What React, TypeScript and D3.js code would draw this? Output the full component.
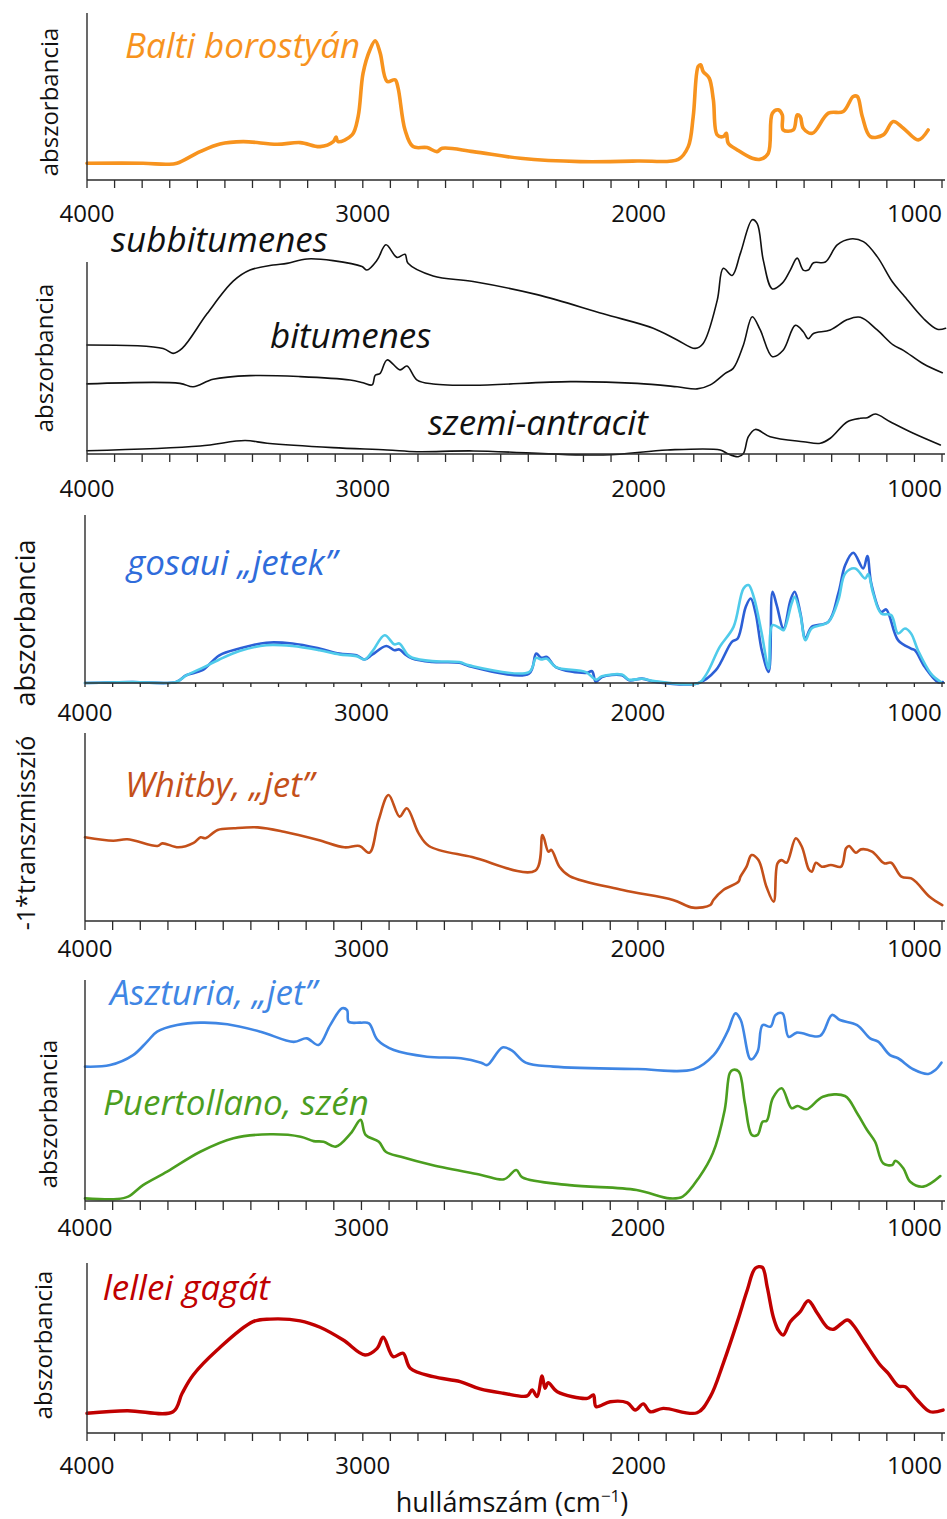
import React from 'react';
import * as d3 from 'd3';

type Pt = [number, number]; // [wavenumber cm-1, relative intensity]

// x axis
const majorTicks = [4000, 3000, 2000, 1000];
const minorTicks = d3.range(4000, 899, -100);

// Panel 1 – Baltic amber
const baltiBorostyan: Pt[] = [
  [4000, 10], [3797, 10], [3710, 9.4], [3674, 10], [3590, 17], [3518, 21.6], [3434, 23], [3311, 21.4],
  [3227, 22.4], [3155, 20], [3107, 23], [3097, 25.7], [3090, 23], [3039, 27], [3017, 38], [2999, 64],
  [2974, 78], [2955, 83.4], [2937, 76], [2912, 59], [2883, 60], [2872, 55], [2847, 30], [2818, 20],
  [2767, 19.4], [2731, 17], [2712, 19], [2600, 17], [2429, 13], [2212, 11], [2005, 11.4], [1856, 12.4],
  [1820, 20], [1802, 38], [1784, 68], [1775, 69], [1766, 65], [1744, 61], [1729, 48], [1715, 27],
  [1693, 26], [1682, 28], [1675, 22], [1642, 18], [1588, 13], [1559, 12.4], [1530, 16], [1515, 40],
  [1494, 42], [1479, 39], [1476, 30], [1439, 30], [1425, 39], [1414, 38], [1403, 31], [1370, 28],
  [1312, 40], [1258, 41], [1222, 50], [1207, 50], [1189, 38], [1160, 26], [1113, 27], [1077, 35],
  [1040, 31], [986, 24], [950, 30],
];

// Panel 2 – coals
const subbitumenes: Pt[] = [
  [4000, 56.8], [3724, 55], [3688, 52.4], [3655, 55], [3565, 73], [3470, 90], [3409, 95.8], [3325, 98.4],
  [3275, 99.3], [3202, 101.6], [3108, 100.7], [3003, 97.6], [2985, 95.8], [2948, 101], [2916, 109],
  [2876, 102.4], [2847, 104], [2836, 99.3], [2745, 92.7], [2600, 89.8], [2368, 83], [2128, 73],
  [1947, 65.5], [1860, 59.4], [1795, 55], [1766, 57.6], [1715, 80], [1693, 96.7], [1661, 93],
  [1631, 104.5], [1588, 122], [1570, 120], [1548, 101], [1515, 86], [1479, 89], [1450, 95.8],
  [1425, 102], [1403, 95.8], [1385, 95.8], [1366, 99.6], [1323, 100], [1280, 108.9], [1232, 112],
  [1185, 110.6], [1135, 102.8], [1080, 89.7], [1040, 82.8], [968, 70.7], [917, 65], [887, 65.5],
];
const bitumenes: Pt[] = [
  [4000, 36.5], [3663, 36.8], [3615, 35], [3543, 38.9], [3409, 40.8], [3227, 40.3], [3046, 38.5],
  [2999, 37.1], [2966, 36], [2955, 41], [2937, 42], [2912, 49], [2865, 43.8], [2840, 45.8], [2803, 38.5],
  [2745, 36.5], [2600, 35.8], [2248, 37.7], [2005, 36.8], [1860, 35], [1788, 33.9], [1740, 36],
  [1686, 42], [1657, 44.6], [1620, 56.8], [1588, 71.5], [1559, 64.6], [1515, 50.7], [1476, 54],
  [1432, 67], [1403, 63.7], [1385, 60], [1366, 62.8], [1305, 64.6], [1243, 70], [1196, 71.2],
  [1135, 64.6], [1077, 56.8], [1040, 54], [968, 47], [899, 42.3],
];
const szemiAntracit: Pt[] = [
  [4000, 1.7], [3590, 4.2], [3427, 7], [3347, 5.6], [3108, 3.3], [2912, 2.1], [2803, 1.2], [2600, 1.6],
  [2128, -0.5], [1896, 2.1], [1704, 2.1], [1679, 0.3], [1639, -1.4], [1620, 0.3], [1602, 9], [1577, 12.8],
  [1523, 9], [1403, 6.4], [1341, 5.6], [1305, 8.2], [1243, 16.8], [1196, 18.6], [1171, 18.9],
  [1142, 20.8], [1088, 16.8], [1004, 10.8], [906, 4.7],
];

// Panel 3 – Gosau "jets" (two samples)
const gosauiSotet: Pt[] = [
  [4000, 0], [3830, 0.6], [3670, 0.6], [3634, 4.6], [3575, 7.6], [3514, 16.5], [3441, 20.5], [3344, 24],
  [3250, 23.5], [3152, 20.5], [3080, 17.5], [3018, 16.5], [2989, 14], [2960, 17], [2910, 22], [2881, 19.5],
  [2863, 20], [2845, 17.5], [2816, 14.5], [2744, 12.5], [2646, 12], [2610, 10], [2394, 5.6], [2368, 17.5],
  [2350, 15], [2329, 15.5], [2297, 9.5], [2188, 6], [2166, 7], [2152, 0.6], [2130, 3.6], [2058, 4.6],
  [2032, 1.6], [1985, 2.6], [1935, 0.6], [1780, 0], [1718, 7.6], [1660, 24.5], [1639, 26.5], [1610, 45.3],
  [1592, 50.3], [1574, 41.4], [1552, 19.5], [1527, 6.6], [1513, 54.3], [1498, 46.3], [1473, 32.4],
  [1448, 49.3], [1433, 54.3], [1412, 41.4], [1394, 26.5], [1372, 33.4], [1311, 36.4], [1275, 53.3],
  [1250, 70.2], [1221, 77.5], [1185, 68.2], [1170, 75.5], [1156, 59.3], [1120, 42.3], [1102, 43.8],
  [1059, 25.5], [1012, 20.5], [998, 19.5], [962, 9.5], [915, 0.6], [897, 0.6],
];
const gosauiVilagos: Pt[] = [
  [4000, 0], [3830, 0.6], [3670, 0.6], [3634, 4.5], [3575, 9], [3514, 14], [3441, 19], [3344, 22.5],
  [3250, 22], [3152, 19.5], [3080, 17], [3018, 16], [2989, 14], [2960, 19], [2916, 28.4], [2881, 23],
  [2863, 23.5], [2834, 17], [2816, 15], [2744, 13], [2646, 12.5], [2610, 10.5], [2394, 6.5], [2368, 15],
  [2350, 14], [2329, 14.5], [2297, 9.5], [2188, 6.5], [2152, 2], [2130, 4], [2058, 5], [2032, 2],
  [1985, 2.5], [1935, 1], [1780, 0], [1751, 5.6], [1704, 21.5], [1654, 33.4], [1618, 56.3], [1600, 58.3],
  [1581, 51.3], [1552, 29.5], [1527, 8.6], [1513, 34.4], [1484, 32.4], [1473, 31.4], [1444, 47.3],
  [1433, 51.3], [1412, 40.4], [1394, 25.5], [1372, 32.4], [1311, 36.4], [1275, 49.3], [1250, 65.2],
  [1214, 68.2], [1178, 62.2], [1167, 64.8], [1149, 53.3], [1120, 41.4], [1084, 40.4], [1059, 29.5],
  [1034, 32.4], [1012, 29.5], [987, 19.5], [940, 5.6], [904, 0.6],
];

// Panel 4 – Whitby jet (-1 * transmission)
const whitbyJet: Pt[] = [
  [4000, 44.5], [3898, 42.7], [3847, 43.5], [3738, 39.9], [3720, 41.3], [3662, 39.2], [3607, 41.6],
  [3582, 44.5], [3564, 44], [3520, 48.4], [3462, 49.3], [3375, 49.8], [3280, 47.5], [3156, 43.1],
  [3062, 39.2], [3007, 39.9], [2971, 36.3], [2938, 53.7], [2902, 67], [2862, 55.5], [2836, 60],
  [2793, 46.6], [2756, 39.9], [2600, 34], [2371, 26.8], [2345, 45.7], [2324, 36.9], [2313, 37.8],
  [2284, 28.9], [2247, 23.9], [2055, 16.5], [1873, 11.2], [1800, 7.1], [1738, 8.5], [1727, 11.2],
  [1691, 16.5], [1636, 20.9], [1629, 23.6], [1607, 28.9], [1589, 35.1], [1564, 32.4], [1535, 18.2],
  [1509, 10.3], [1495, 30.7], [1480, 32.4], [1462, 31], [1429, 44], [1407, 39.5], [1382, 27.5],
  [1371, 26.2], [1356, 31], [1335, 28.9], [1302, 29.8], [1265, 28.9], [1247, 38.7], [1236, 39.9],
  [1211, 36.3], [1193, 38.1], [1153, 36.9], [1109, 30.7], [1084, 31], [1047, 23.6], [1011, 22.7],
  [989, 20], [945, 12.9], [899, 8.5],
];

// Panel 5 – Asturias jet and Puertollano coal
const aszturiaJet: Pt[] = [
  [4000, 60.8], [3909, 61.5], [3826, 66], [3776, 72], [3739, 76.6], [3667, 79.6], [3583, 80.7],
  [3485, 80], [3365, 76.6], [3245, 72], [3198, 73.6], [3155, 70.6], [3113, 79.6], [3070, 87.2],
  [3052, 86.4], [3046, 81.1], [3003, 80.7], [2973, 80.4], [2942, 72.9], [2883, 68.3], [2763, 65.3],
  [2640, 64.6], [2567, 62.6], [2545, 61.5], [2490, 69.5], [2455, 68], [2406, 62.6], [2306, 60.8],
  [2002, 59.7], [1798, 59.6], [1726, 66], [1676, 76.6], [1647, 84.9], [1628, 81.9], [1592, 64.1],
  [1567, 67.6], [1549, 79.6], [1520, 78.9], [1502, 84.2], [1477, 84.9], [1455, 74.3], [1425, 76.2],
  [1341, 74.7], [1298, 84.2], [1269, 81.9], [1207, 79.6], [1160, 73.6], [1131, 72.1], [1088, 66],
  [1059, 64.6], [1004, 59.6], [950, 57.5], [924, 59.3], [902, 62.6],
];
const puertollanoSzen: Pt[] = [
  [4000, 1.2], [3884, 0.9], [3844, 2], [3790, 7.2], [3703, 13.3], [3583, 22.3], [3463, 28.4],
  [3329, 30.2], [3220, 29.1], [3173, 27.1], [3137, 26.8], [3093, 24.6], [3039, 30.6], [3003, 36.7],
  [2985, 29.9], [2937, 26.8], [2912, 22.3], [2857, 20], [2745, 16.3], [2567, 11.8], [2484, 9.8],
  [2440, 14], [2418, 10.7], [2248, 7.2], [2005, 5], [1885, 1.2], [1838, 2], [1777, 11], [1729, 21.6],
  [1686, 41.2], [1668, 57.8], [1657, 59.3], [1635, 58.5], [1613, 44.2], [1588, 29.9], [1567, 29.9],
  [1549, 35.9], [1534, 36.3], [1512, 46.5], [1480, 51], [1444, 42], [1422, 43], [1390, 41.5],
  [1331, 47.2], [1251, 47.5], [1207, 39.7], [1171, 32.1], [1142, 26.8], [1113, 17.1], [1080, 16.3],
  [1069, 18.2], [1040, 14.8], [1015, 8.7], [968, 6.5], [906, 11.3],
];

// Panel 6 – jet from Lellé
const lelleiGagat: Pt[] = [
  [4000, 11.6], [3855, 13.1], [3688, 12.5], [3655, 23.4], [3615, 34.1], [3528, 48.8], [3398, 65.5],
  [3336, 67], [3227, 66], [3155, 62.2], [3071, 54.7], [2992, 45.9], [2948, 49.8], [2926, 56.3],
  [2890, 44.9], [2854, 46.9], [2828, 38.1], [2745, 33.1], [2647, 30.2], [2575, 25.9], [2491, 23.4],
  [2404, 21.8], [2386, 25.3], [2368, 21.4], [2350, 33.5], [2339, 26.3], [2328, 29.6], [2295, 24.3],
  [2186, 20.4], [2164, 22.4], [2154, 15.5], [2103, 18.4], [2041, 17.8], [2012, 13.5], [1983, 17.1],
  [1958, 12.5], [1911, 14.5], [1788, 11.9], [1740, 21.4], [1693, 41], [1642, 65.5], [1606, 84.1],
  [1577, 96.9], [1552, 97.5], [1534, 86.1], [1512, 68.4], [1494, 60.6], [1476, 57.6], [1450, 65.5],
  [1414, 71.4], [1385, 77.8], [1352, 70.4], [1316, 62.2], [1294, 61], [1243, 66.5], [1222, 63.5],
  [1178, 52.8], [1124, 40], [1095, 35.1], [1058, 27.6], [1033, 27.2], [990, 19.4], [943, 12.5],
  [896, 13.5],
];

const AXIS = '#2b2b2b';
const FONT = "'Open Sans', 'Noto Sans', sans-serif";

const panels = [
  {
    top: 13, axisY: 180, x0: 87, tickLen: 8, tickLabelY: 222,
    yLabel: 'abszorbancia', yLabelX: 58, yLabelY: 102, yLabelSize: 24,
    series: [{ data: baltiBorostyan, color: '#f7931e', width: 3.6 }],
    labels: [{ text: 'Balti borostyán', x: 125, y: 58, color: '#f7931e' }],
  },
  {
    top: 262, axisY: 454, x0: 87, tickLen: 8, tickLabelY: 497,
    yLabel: 'abszorbancia', yLabelX: 53, yLabelY: 358, yLabelSize: 24,
    series: [
      { data: subbitumenes, color: '#111', width: 1.6 },
      { data: bitumenes, color: '#111', width: 1.6 },
      { data: szemiAntracit, color: '#111', width: 1.6 },
    ],
    labels: [
      { text: 'subbitumenes', x: 111, y: 252, color: '#111' },
      { text: 'bitumenes', x: 270, y: 348, color: '#111' },
      { text: 'szemi-antracit', x: 428, y: 435, color: '#111' },
    ],
  },
  {
    top: 515, axisY: 683, x0: 85, tickLen: 4, tickLabelY: 721,
    yLabel: 'abszorbancia', yLabelX: 35, yLabelY: 623, yLabelSize: 27,
    series: [
      { data: gosauiSotet, color: '#2c5fd6', width: 2.6 },
      { data: gosauiVilagos, color: '#4fcbea', width: 2.6 },
    ],
    labels: [{ text: 'gosaui „jetek”', x: 127, y: 575, color: '#2f6cdb' }],
  },
  {
    top: 733, axisY: 921, x0: 85, tickLen: 9, tickLabelY: 957,
    yLabel: '-1*transzmisszió', yLabelX: 35, yLabelY: 833, yLabelSize: 25,
    series: [{ data: whitbyJet, color: '#c4501a', width: 2.6 }],
    labels: [{ text: 'Whitby, „jet”', x: 125, y: 797, color: '#c4501a' }],
  },
  {
    top: 980, axisY: 1201, x0: 85, tickLen: 9, tickLabelY: 1236,
    yLabel: 'abszorbancia', yLabelX: 57, yLabelY: 1114, yLabelSize: 24,
    series: [
      { data: aszturiaJet, color: '#3f86e4', width: 2.6 },
      { data: puertollanoSzen, color: '#4b9e1f', width: 2.6 },
    ],
    labels: [
      { text: 'Aszturia, „jet”', x: 110, y: 1005, color: '#3f86e4' },
      { text: 'Puertollano, szén', x: 103, y: 1115, color: '#4b9e1f' },
    ],
  },
  {
    top: 1263, axisY: 1433, x0: 87, tickLen: 8, tickLabelY: 1474,
    yLabel: 'abszorbancia', yLabelX: 52, yLabelY: 1345, yLabelSize: 24,
    series: [{ data: lelleiGagat, color: '#c00000', width: 3.4 }],
    labels: [{ text: 'lellei gagát', x: 103, y: 1300, color: '#c00000' }],
  },
];

function Panel({ p }: { p: typeof panels[number] }) {
  const x = d3.scaleLinear().domain([4000, 900]).range([p.x0, 942]);
  const y = d3.scaleLinear().domain([0, 100]).range([p.axisY, p.top]);
  const line = d3.line<Pt>()
    .x(d => x(d[0]))
    .y(d => y(d[1]))
    .curve(d3.curveCatmullRom.alpha(0.5));

  return (
    <g>
      {p.series.map((s, i) => (
        <path key={i} d={line(s.data) || ''} fill="none" stroke={s.color}
          strokeWidth={s.width} strokeLinejoin="round" strokeLinecap="round" />
      ))}

      {/* axes */}
      <line x1={p.x0} x2={p.x0} y1={p.top} y2={p.axisY} stroke={AXIS} strokeWidth={1.4} />
      <line x1={p.x0} x2={945} y1={p.axisY} y2={p.axisY} stroke={AXIS} strokeWidth={1.4} />
      {minorTicks.map(t => (
        <line key={t} x1={x(t)} x2={x(t)} y1={p.axisY} y2={p.axisY + p.tickLen}
          stroke={AXIS} strokeWidth={1.3} />
      ))}
      {majorTicks.map(t => (
        <text key={t} x={x(t)} y={p.tickLabelY} textAnchor="middle" fontSize={24} fill="#111">
          {t}
        </text>
      ))}

      <text transform={`translate(${p.yLabelX},${p.yLabelY}) rotate(-90)`} textAnchor="middle"
        fontSize={p.yLabelSize} fill="#111">
        {p.yLabel}
      </text>

      {p.labels.map(l => (
        <text key={l.text} x={l.x} y={l.y} fontSize={35} fontStyle="italic" fill={l.color}>
          {l.text}
        </text>
      ))}
    </g>
  );
}

export default function App() {
  return (
    <div style={{ position: 'absolute', left: 0, top: 0 }}>
      <svg width={947} height={1519} style={{ display: 'block', background: '#fff' }} fontFamily={FONT}>
        {panels.map((p, i) => <Panel key={i} p={p} />)}
        <text x={512} y={1512} textAnchor="middle" fontSize={27} fill="#111">
          hullámszám (cm<tspan dy={-10} fontSize={17}>−1</tspan><tspan dy={10}>)</tspan>
        </text>
      </svg>
    </div>
  );
}
